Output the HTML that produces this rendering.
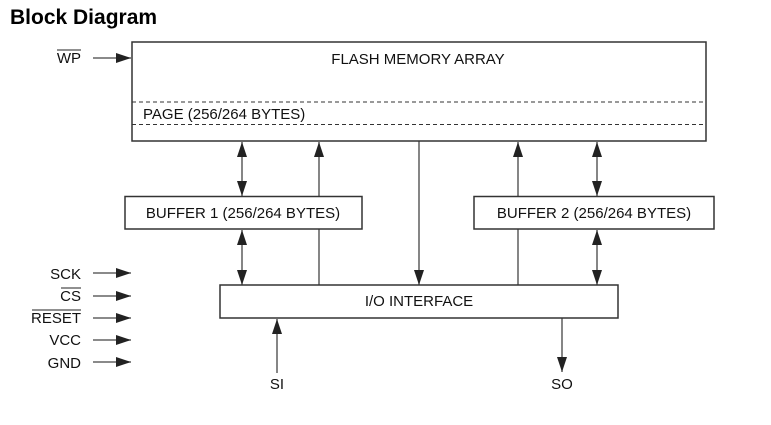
<!DOCTYPE html>
<html><head><meta charset="utf-8"><style>
html,body{margin:0;padding:0;background:#fff;}
svg{display:block;}
text{font-family:"Liberation Sans",sans-serif;fill:#111;}
</style></head><body>
<svg width="771" height="425" viewBox="0 0 771 425" xmlns="http://www.w3.org/2000/svg">
<defs>
<marker id="a" viewBox="0 0 15 10" refX="15" refY="5" markerWidth="15" markerHeight="10" markerUnits="userSpaceOnUse" orient="auto-start-reverse"><path d="M0,0 L15,5 L0,10 z" fill="#222"/></marker>
</defs>
<text x="10" y="24" font-size="21" font-weight="bold" style="fill:#000">Block Diagram</text>
<g stroke="#444" stroke-width="1.3" fill="none">
<line x1="93" y1="58" x2="131" y2="58" marker-end="url(#a)"/>
<line x1="93" y1="273" x2="131" y2="273" marker-end="url(#a)"/>
<line x1="93" y1="296" x2="131" y2="296" marker-end="url(#a)"/>
<line x1="93" y1="318" x2="131" y2="318" marker-end="url(#a)"/>
<line x1="93" y1="340" x2="131" y2="340" marker-end="url(#a)"/>
<line x1="93" y1="362" x2="131" y2="362" marker-end="url(#a)"/>
<line x1="242" y1="142" x2="242" y2="196" marker-start="url(#a)" marker-end="url(#a)"/>
<line x1="242" y1="230" x2="242" y2="285" marker-start="url(#a)" marker-end="url(#a)"/>
<line x1="319" y1="285" x2="319" y2="142" marker-end="url(#a)"/>
<line x1="419" y1="141" x2="419" y2="285" marker-end="url(#a)"/>
<line x1="518" y1="285" x2="518" y2="142" marker-end="url(#a)"/>
<line x1="597" y1="142" x2="597" y2="196" marker-start="url(#a)" marker-end="url(#a)"/>
<line x1="597" y1="230" x2="597" y2="285" marker-start="url(#a)" marker-end="url(#a)"/>
<line x1="277" y1="373" x2="277" y2="319" marker-end="url(#a)"/>
<line x1="562" y1="318" x2="562" y2="372" marker-end="url(#a)"/>
</g>
<g stroke="#333" stroke-width="1.5" fill="#fff">
<rect x="132" y="42" width="574" height="99"/>
<rect x="125" y="196.5" width="237" height="32.5"/>
<rect x="474" y="196.5" width="240" height="32.5"/>
<rect x="220" y="285" width="398" height="33"/>
</g>
<g stroke="#333" stroke-width="1" stroke-dasharray="4,3">
<line x1="132" y1="102" x2="706" y2="102"/>
<line x1="132" y1="124.5" x2="706" y2="124.5"/>
</g>
<g font-size="15">
<text x="418" y="64" text-anchor="middle">FLASH MEMORY ARRAY</text>
<text x="143" y="119">PAGE (256/264 BYTES)</text>
<text x="243" y="218" text-anchor="middle">BUFFER 1 (256/264 BYTES)</text>
<text x="594" y="218" text-anchor="middle">BUFFER 2 (256/264 BYTES)</text>
<text x="419" y="306" text-anchor="middle">I/O INTERFACE</text>
<text x="81" y="63" text-anchor="end">WP</text>
<text x="81" y="279" text-anchor="end">SCK</text>
<text x="81" y="301" text-anchor="end">CS</text>
<text x="81" y="323" text-anchor="end">RESET</text>
<text x="81" y="345" text-anchor="end">VCC</text>
<text x="81" y="368" text-anchor="end">GND</text>
<text x="277" y="389" text-anchor="middle">SI</text>
<text x="562" y="389" text-anchor="middle">SO</text>
</g>
<g stroke="#222" stroke-width="1">
<line x1="57" y1="50" x2="81" y2="50"/>
<line x1="61" y1="288" x2="81" y2="288"/>
<line x1="32" y1="310" x2="81" y2="310"/>
</g>
</svg>
</body></html>
